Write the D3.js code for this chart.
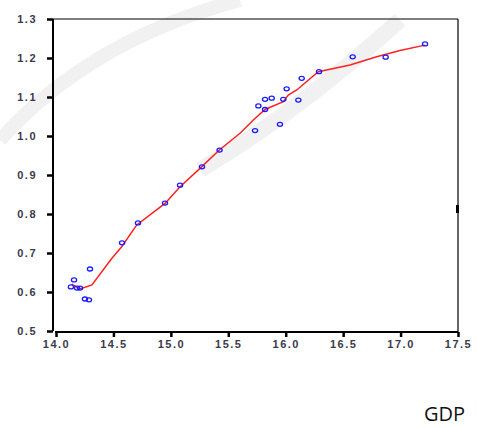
<!DOCTYPE html>
<html>
<head>
<meta charset="utf-8">
<script src="https://cdn.jsdelivr.net/npm/d3@7"></script>
<style>
  body { margin: 0; background: #fff; }
  svg { display: block; }
</style>
</head>
<body>
<div class="chart"></div>
<script>
// scatter observations (GDP on x)
const gdp = [14.13, 14.157, 14.183, 14.209, 14.252, 14.287, 14.296, 14.575, 14.714, 14.949,
  15.08, 15.271, 15.424, 15.733, 15.95, 15.762, 15.82, 15.82, 15.878, 15.979,
  16.008, 16.11, 16.139, 16.29, 16.583, 16.87, 17.213];
const yVals = [0.613, 0.631, 0.610, 0.610, 0.582, 0.580, 0.659, 0.726, 0.777, 0.828,
  0.874, 0.921, 0.964, 1.014, 1.030, 1.077, 1.068, 1.094, 1.097, 1.094,
  1.121, 1.092, 1.148, 1.165, 1.203, 1.202, 1.236];

// smoothed fit line
const fitX = [14.137, 14.209, 14.313, 14.485, 14.572, 14.703, 14.949, 15.08, 15.254, 15.422,
  15.602, 15.718, 15.82, 15.979, 16.022, 16.096, 16.284, 16.56, 16.792, 16.995, 17.213];
const fitY = [0.620, 0.608, 0.618, 0.686, 0.716, 0.772, 0.827, 0.870, 0.917, 0.964,
  1.007, 1.041, 1.068, 1.088, 1.105, 1.118, 1.165, 1.182, 1.203, 1.219, 1.233];

const xTicks = [14.0, 14.5, 15.0, 15.5, 16.0, 16.5, 17.0, 17.5];
const yTicks = [0.5, 0.6, 0.7, 0.8, 0.9, 1.0, 1.1, 1.2, 1.3];

const W = 477, H = 428;
const svg = d3.select(".chart").append("svg")
  .attr("width", W).attr("height", H);

// faint watermark bands
const wm = svg.append("g").attr("fill", "none").attr("stroke", "#f1f1f1");
wm.append("path").attr("d", "M 0,140 Q 90,40 240,0").attr("stroke-width", 14);
wm.append("path").attr("d", "M 200,170 Q 300,110 400,20").attr("stroke-width", 16);

const x = d3.scaleLinear().domain([14, 17.5]).range([56, 458]);
const y = d3.scaleLinear().domain([0.5, 1.3]).range([331, 19]);

// frame: top and right thin lines
svg.append("line").attr("x1", 53).attr("x2", 458).attr("y1", 19).attr("y2", 19)
  .attr("stroke", "#000").attr("stroke-width", 1.2);
svg.append("line").attr("x1", 458).attr("x2", 458).attr("y1", 19).attr("y2", 332)
  .attr("stroke", "#000").attr("stroke-width", 1.2);
svg.append("rect").attr("x", 456).attr("y", 205).attr("width", 3).attr("height", 8).attr("fill", "#000");

// left axis
const yAxis = svg.append("g")
  .attr("transform", "translate(53,0)")
  .call(d3.axisLeft(y).tickValues(yTicks).tickFormat(d3.format(".1f")).tickSize(6).tickPadding(10));
yAxis.select(".domain").attr("stroke-width", 2).attr("d", "M0,19V331");
yAxis.selectAll(".tick line").attr("stroke-width", 2.5);
yAxis.selectAll("text")
  .attr("font-family", "Liberation Sans, Arial, sans-serif")
  .attr("font-size", 11).attr("font-weight", "bold")
  .attr("letter-spacing", 1.5).attr("fill", "#3a3a4a");

// bottom axis
const xAxis = svg.append("g")
  .attr("transform", "translate(0,332)")
  .call(d3.axisBottom(x).tickValues(xTicks).tickFormat(d3.format(".1f")).tickSize(5).tickPadding(3));
xAxis.select(".domain").attr("stroke-width", 2).attr("d", "M55,0H458");
xAxis.selectAll(".tick line").attr("stroke-width", 2.5);
xAxis.selectAll("text")
  .attr("font-family", "Liberation Sans, Arial, sans-serif")
  .attr("font-size", 11).attr("font-weight", "bold")
  .attr("letter-spacing", 1.5).attr("fill", "#3a3a4a");

// fitted line
const fit = fitX.map((d, i) => [d, fitY[i]]);
svg.append("path")
  .datum(fit)
  .attr("fill", "none")
  .attr("stroke", "#ff2020")
  .attr("stroke-width", 1.5)
  .attr("d", d3.line().x(d => x(d[0])).y(d => y(d[1])));

// points
svg.selectAll(".pt")
  .data(gdp.map((d, i) => [d, yVals[i]]))
  .enter().append("ellipse")
  .attr("class", "pt")
  .attr("cx", d => x(d[0]))
  .attr("cy", d => y(d[1]))
  .attr("rx", 2.6).attr("ry", 2)
  .attr("fill", "none")
  .attr("stroke", "#1a1aff")
  .attr("stroke-width", 1.3);

// x label
svg.append("text")
  .attr("x", 424).attr("y", 421)
  .attr("font-family", "Open Sans, sans-serif")
  .attr("font-size", 20)
  .attr("fill", "#111")
  .text("GDP");
</script>
</body>
</html>
